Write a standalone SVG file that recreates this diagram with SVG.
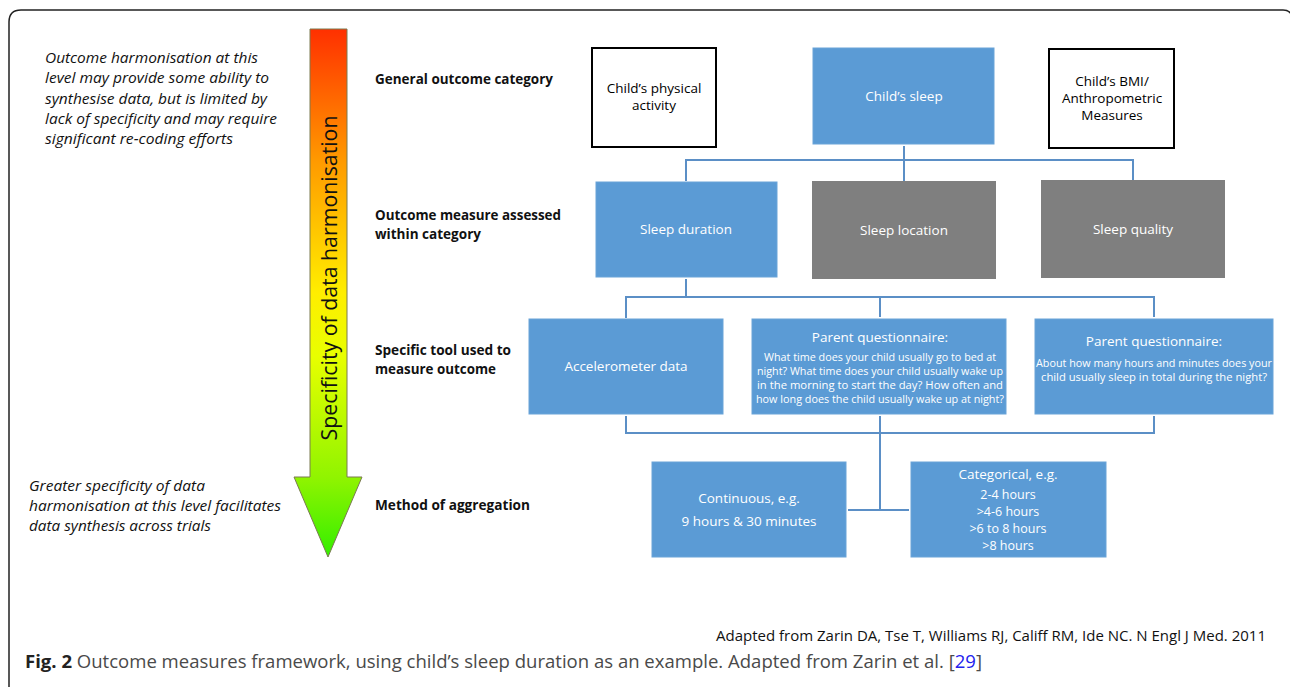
<svg xmlns="http://www.w3.org/2000/svg" width="1290" height="687" viewBox="0 0 1290 687">
<defs>
<linearGradient id="grad" x1="0" y1="29" x2="0" y2="557" gradientUnits="userSpaceOnUse">
<stop offset="0" stop-color="#ff3000"/>
<stop offset="0.25" stop-color="#ff9a00"/>
<stop offset="0.5" stop-color="#ffee00"/>
<stop offset="0.62" stop-color="#e8ff00"/>
<stop offset="0.85" stop-color="#90f400"/>
<stop offset="1" stop-color="#33ee00"/>
</linearGradient>
</defs>
<style>
.lbl{font-family:"Open Sans","Liberation Sans",sans-serif;font-weight:bold;font-size:13.5px;fill:#111}
.it{font-family:"Open Sans","Liberation Sans",sans-serif;font-style:italic;font-size:14.5px;fill:#111}
.bt{font-family:"Open Sans","Liberation Sans",sans-serif;font-size:13.5px;fill:#fff;text-anchor:middle}
.bs{font-family:"Open Sans","Liberation Sans",sans-serif;font-size:11px;fill:#fff;text-anchor:middle}
.bm{font-family:"Open Sans","Liberation Sans",sans-serif;font-size:12.5px;fill:#fff;text-anchor:middle}
.bk{font-family:"Open Sans","Liberation Sans",sans-serif;font-size:13.5px;fill:#000;text-anchor:middle}
.blue{fill:#5b9bd5;stroke:#6aa4d8;stroke-width:1}
.gray{fill:#7f7f7f}
.white{fill:#fff;stroke:#000;stroke-width:2}
.con{fill:none;stroke:#5b8fc6;stroke-width:2}
</style>
<rect width="1290" height="687" fill="#fff"/>
<path d="M9,700 L9,22 Q9,10 21,10 L1283,10 Q1290,10 1292,16" fill="none" stroke="#222" stroke-width="1.5"/>

<g id="arrow">
<path d="M310,29 L347,29 L347,477 L362,477 L328,557 L294,477 L310,477 Z" fill="url(#grad)" stroke="#7a7a50" stroke-width="1"/>
<text transform="translate(337,278) rotate(-90)" font-family="Open Sans, Liberation Sans, sans-serif" font-size="22" text-anchor="middle" fill="#111" textLength="325" lengthAdjust="spacingAndGlyphs">Specificity of data harmonisation</text>
</g>

<g id="note-top">
<text class="it" x="45" y="63" textLength="213" lengthAdjust="spacingAndGlyphs">Outcome harmonisation at this</text>
<text class="it" x="45" y="83" textLength="224" lengthAdjust="spacingAndGlyphs">level may provide some ability to</text>
<text class="it" x="45" y="104" textLength="222" lengthAdjust="spacingAndGlyphs">synthesise data, but is limited by</text>
<text class="it" x="45" y="124" textLength="232" lengthAdjust="spacingAndGlyphs">lack of specificity and may require</text>
<text class="it" x="45" y="144" textLength="188" lengthAdjust="spacingAndGlyphs">significant re-coding efforts</text>
</g>
<g id="note-bottom">
<text class="it" x="29" y="491" textLength="176" lengthAdjust="spacingAndGlyphs">Greater specificity of data</text>
<text class="it" x="29" y="511" textLength="252" lengthAdjust="spacingAndGlyphs">harmonisation at this level facilitates</text>
<text class="it" x="29" y="531" textLength="182" lengthAdjust="spacingAndGlyphs">data synthesis across trials</text>
</g>

<g id="levels">
<text class="lbl" x="375" y="84" textLength="178" lengthAdjust="spacingAndGlyphs">General outcome category</text>
<text class="lbl" x="375" y="220" textLength="186" lengthAdjust="spacingAndGlyphs">Outcome measure assessed</text>
<text class="lbl" x="375" y="239" textLength="106" lengthAdjust="spacingAndGlyphs">within category</text>
<text class="lbl" x="375" y="355" textLength="136" lengthAdjust="spacingAndGlyphs">Specific tool used to</text>
<text class="lbl" x="375" y="374" textLength="121" lengthAdjust="spacingAndGlyphs">measure outcome</text>
<text class="lbl" x="375" y="510" textLength="155" lengthAdjust="spacingAndGlyphs">Method of aggregation</text>
</g>

<g id="connectors">
<path class="con" d="M904,146 V181 M686,181 V160 H1133 V180"/>
<path class="con" d="M686,279 V297 M626,318 V297 H1154 V317 M880,297 V317"/>
<path class="con" d="M626,416 V433 H1154 V416 M880,416 V510 M848,510 H909"/>
</g>

<g id="n-activity">
<rect class="white" x="592" y="48" width="124" height="99"/>
<text class="bk" x="654" y="93">Child’s physical</text>
<text class="bk" x="654" y="110">activity</text>
</g>
<g id="n-sleep">
<rect class="blue" x="813" y="48" width="181" height="96"/>
<text class="bt" x="904" y="101">Child’s sleep</text>
</g>
<g id="n-bmi">
<rect class="white" x="1049" y="49" width="125" height="99"/>
<text class="bk" x="1112" y="86">Child’s BMI/</text>
<text class="bk" x="1112" y="103">Anthropometric</text>
<text class="bk" x="1112" y="120">Measures</text>
</g>

<g id="n-duration">
<rect class="blue" x="596" y="182" width="181" height="95"/>
<text class="bt" x="686" y="234">Sleep duration</text>
</g>
<g id="n-location">
<rect class="gray" x="812" y="181" width="184" height="98"/>
<text class="bt" x="904" y="235">Sleep location</text>
</g>
<g id="n-quality">
<rect class="gray" x="1041" y="180" width="184" height="98"/>
<text class="bt" x="1133" y="234">Sleep quality</text>
</g>

<g id="n-accel">
<rect class="blue" x="529" y="319" width="194" height="95"/>
<text class="bt" x="626" y="371">Accelerometer data</text>
</g>
<g id="n-pq1">
<rect class="blue" x="752" y="319" width="254" height="95"/>
<text class="bt" x="880" y="342">Parent questionnaire:</text>
<text class="bs" x="880" y="361" textLength="232" lengthAdjust="spacingAndGlyphs">What time does your child usually go to bed at</text>
<text class="bs" x="880" y="375" textLength="246" lengthAdjust="spacingAndGlyphs">night? What time does your child usually wake up</text>
<text class="bs" x="880" y="389" textLength="246" lengthAdjust="spacingAndGlyphs">in the morning to start the day? How often and</text>
<text class="bs" x="880" y="403" textLength="248" lengthAdjust="spacingAndGlyphs">how long does the child usually wake up at night?</text>
</g>
<g id="n-pq2">
<rect class="blue" x="1035" y="319" width="238" height="95"/>
<text class="bt" x="1154" y="346">Parent questionnaire:</text>
<text class="bs" x="1154" y="367" textLength="236" lengthAdjust="spacingAndGlyphs">About how many hours and minutes does your</text>
<text class="bs" x="1154" y="381" textLength="226" lengthAdjust="spacingAndGlyphs">child usually sleep in total during the night?</text>
</g>

<g id="n-continuous">
<rect class="blue" x="652" y="462" width="194" height="95"/>
<text class="bt" x="749" y="503">Continuous, e.g.</text>
<text class="bt" x="749" y="526">9 hours &amp; 30 minutes</text>
</g>
<g id="n-categorical">
<rect class="blue" x="911" y="462" width="195" height="95"/>
<text class="bt" x="1008" y="479">Categorical, e.g.</text>
<text class="bm" x="1008" y="499">2-4 hours</text>
<text class="bm" x="1008" y="516">&gt;4-6 hours</text>
<text class="bm" x="1008" y="533">&gt;6 to 8 hours</text>
<text class="bm" x="1008" y="550">&gt;8 hours</text>
</g>

<text x="716" y="641" font-family="Open Sans, Liberation Sans, sans-serif" font-size="14" fill="#111" textLength="550" lengthAdjust="spacingAndGlyphs">Adapted from Zarin DA, Tse T, Williams RJ, Califf RM, Ide NC. N Engl J Med. 2011</text>
<text x="25" y="668" font-family="Open Sans, Liberation Sans, sans-serif" font-size="18" fill="#4a4a4a" textLength="957" lengthAdjust="spacingAndGlyphs"><tspan font-weight="bold" fill="#222">Fig. 2</tspan> Outcome measures framework, using child’s sleep duration as an example. Adapted from Zarin et al. [<tspan fill="#2222ee">29</tspan>]</text>
</svg>
